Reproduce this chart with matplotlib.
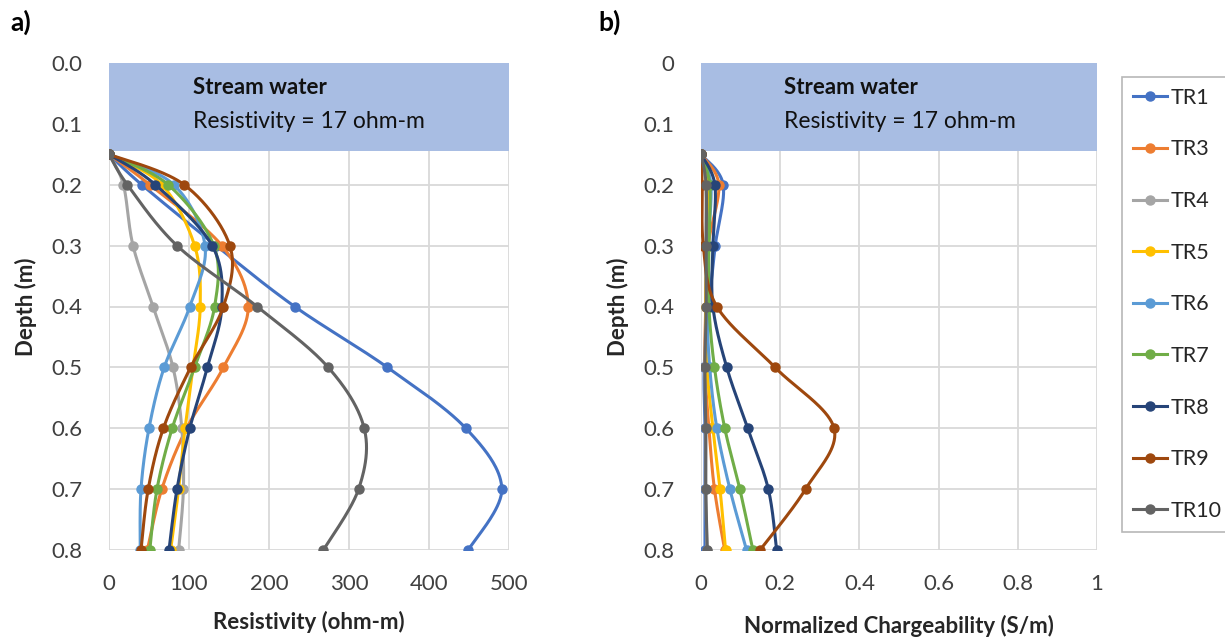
import numpy as np
import matplotlib
matplotlib.use("Agg")
import matplotlib.pyplot as plt
from matplotlib.lines import Line2D

plt.rcParams['font.family'] = ['Lato', 'DejaVu Sans']

# Depths of the measurement points (m)
depth = [0.15, 0.2, 0.3, 0.4, 0.5, 0.6, 0.7, 0.8]

series_names = ['TR1', 'TR3', 'TR4', 'TR5', 'TR6', 'TR7', 'TR8', 'TR9', 'TR10']
series_colors = ['#4472C4', '#ED7D31', '#A5A5A5', '#FFC000', '#5B9BD5',
                 '#70AD47', '#264478', '#9E480E', '#636363']

# Resistivity profiles (ohm-m)
res_tr1 = [0, 41, 134, 232, 348, 446, 491, 449]
res_tr3 = [0, 51, 141, 174, 143, 97, 66, 48]
res_tr4 = [0, 18, 30, 55, 80, 91, 93, 87]
res_tr5 = [0, 66, 107, 114, 105, 95, 87, 77]
res_tr6 = [0, 81, 120, 101, 69, 50, 40, 39]
res_tr7 = [0, 74, 131, 132, 107, 79, 60, 51]
res_tr8 = [0, 58, 129, 141, 123, 101, 85, 75]
res_tr9 = [0, 94, 151, 143, 102, 68, 49, 40]
res_tr10 = [0, 23, 85, 185, 274, 319, 312, 268]

# Normalized chargeability profiles (S/m)
chg_tr1 = [0, 0.056, 0.036, 0.020, 0.008, 0.010, 0.010, 0.010]
chg_tr3 = [0, 0.045, 0.018, 0.012, 0.010, 0.020, 0.034, 0.060]
chg_tr4 = [0, 0.012, 0.012, 0.012, 0.010, 0.012, 0.012, 0.015]
chg_tr5 = [0, 0.020, 0.015, 0.012, 0.015, 0.030, 0.048, 0.062]
chg_tr6 = [0, 0.025, 0.018, 0.015, 0.022, 0.040, 0.073, 0.115]
chg_tr7 = [0, 0.022, 0.020, 0.020, 0.034, 0.060, 0.098, 0.131]
chg_tr8 = [0, 0.035, 0.030, 0.030, 0.065, 0.118, 0.170, 0.191]
chg_tr9 = [0, 0.003, 0.006, 0.040, 0.187, 0.336, 0.264, 0.149]
chg_tr10 = [0, 0.013, 0.013, 0.013, 0.010, 0.012, 0.012, 0.016]

resistivity = [res_tr1, res_tr3, res_tr4, res_tr5, res_tr6, res_tr7, res_tr8, res_tr9, res_tr10]
chargeability = [chg_tr1, chg_tr3, chg_tr4, chg_tr5, chg_tr6, chg_tr7, chg_tr8, chg_tr9, chg_tr10]

stream_depth = 0.145
stream_label = 'Stream water'
stream_note = 'Resistivity = 17 ohm-m'

W, H = 1225, 637
fig = plt.figure(figsize=(W / 100, H / 100), dpi=100)

ax_top, ax_bot = 63, 550
axL = fig.add_axes([109 / W, 1 - ax_bot / H, 400 / W, (ax_bot - ax_top) / H])
axR = fig.add_axes([701 / W, 1 - ax_bot / H, 396 / W, (ax_bot - ax_top) / H])


def smooth_curve(ax, x, y, n=40):
    """Bezier smoothing through the points, computed in display space."""
    pts = ax.transData.transform(np.column_stack([x, y]))
    m = len(pts)
    out = [pts[0]]
    t = np.linspace(0, 1, n)[1:, None]
    for i in range(m - 1):
        p0 = pts[i]
        p3 = pts[i + 1]
        pm = pts[i - 1] if i > 0 else pts[i]
        pp = pts[i + 2] if i + 2 < m else pts[i + 1]
        c1 = p0 + (p3 - pm) / 6.0
        c2 = p3 - (pp - p0) / 6.0
        seg = ((1 - t) ** 3) * p0 + 3 * ((1 - t) ** 2) * t * c1 + 3 * (1 - t) * t ** 2 * c2 + t ** 3 * p3
        out.extend(seg)
    out = np.array(out)
    data = ax.transData.inverted().transform(out)
    return data[:, 0], data[:, 1]


def setup(ax, xmax, xticks, xticklabels, yticklabels, xlabel, note_x,
          ylabel_x, xlabel_y):
    ax.set_xlim(0, xmax)
    ax.set_ylim(0.8, 0)
    ax.set_xticks(xticks)
    ax.set_xticklabels(xticklabels)
    ax.set_yticks([0, 0.1, 0.2, 0.3, 0.4, 0.5, 0.6, 0.7, 0.8])
    ax.set_yticklabels(yticklabels)
    ax.grid(True, color='#d9d9d9', linewidth=1.3, zorder=0)
    ax.set_axisbelow(True)
    for s in ax.spines.values():
        s.set_visible(False)
    ax.tick_params(axis='both', length=0, labelsize=16, colors='#404040')
    ax.tick_params(axis='x', pad=17)
    ax.tick_params(axis='y', pad=19)
    ax.set_xlabel(xlabel, fontsize=16, fontweight='bold', color='#262626')
    ax.set_ylabel('Depth (m)', fontsize=16, fontweight='bold', color='#262626')
    ax.yaxis.set_label_coords(ylabel_x, 0.5)
    ax.xaxis.set_label_coords(0.5, xlabel_y)
    ax.axhspan(0, stream_depth, xmin=0, xmax=1, facecolor='#a8bde3', edgecolor='none', zorder=1)
    ax.text(note_x, 0.040, stream_label, fontsize=16, fontweight='bold', color='#111111',
            va='center', ha='left', zorder=5)
    ax.text(note_x, 0.096, stream_note, fontsize=16.5, color='#111111',
            va='center', ha='left', zorder=5)


setup(axL, 500, [0, 100, 200, 300, 400, 500], ['0', '100', '200', '300', '400', '500'],
      ['0.0', '0.1', '0.2', '0.3', '0.4', '0.5', '0.6', '0.7', '0.8'],
      'Resistivity (ohm-m)', 105, -0.18, -0.125)
setup(axR, 1, [0, 0.2, 0.4, 0.6, 0.8, 1.0], ['0', '0.2', '0.4', '0.6', '0.8', '1'],
      ['0', '0.1', '0.2', '0.3', '0.4', '0.5', '0.6', '0.7', '0.8'],
      'Normalized Chargeability (S/m)', 0.21, -0.182, -0.1335)

for k, (name, color) in enumerate(zip(series_names, series_colors)):
    for ax, values in ((axL, resistivity[k]), (axR, chargeability[k])):
        sx, sy = smooth_curve(ax, values, depth)
        ax.plot(sx, sy, color=color, linewidth=2.2, zorder=3 + k * 0.1, solid_capstyle='round')
        ax.plot(values, depth, linestyle='none', marker='o', markersize=6.5,
                color=color, zorder=3 + k * 0.1 + 0.05)

fig.text(10 / W, 1 - 22 / H, 'a)', fontsize=19, fontweight='bold', va='center', ha='left')
fig.text(598 / W, 1 - 22 / H, 'b)', fontsize=19, fontweight='bold', va='center', ha='left')

handles = [Line2D([0], [0], color=c, linewidth=2.2, marker='o', markersize=6.5)
           for c in series_colors]
leg = fig.legend(handles, series_names, loc='upper left',
                 bbox_to_anchor=(1122 / W, 1 - 77 / H), bbox_transform=fig.transFigure,
                 fontsize=15.5, frameon=True, fancybox=False, labelspacing=1.47,
                 handlelength=1.58, handletextpad=0.18, borderpad=0.5, borderaxespad=0)
leg.get_frame().set_edgecolor('#a6a6a6')
leg.get_frame().set_linewidth(1.2)
for t in leg.get_texts():
    t.set_color('#262626')

fig.savefig('out.png', dpi=100)
